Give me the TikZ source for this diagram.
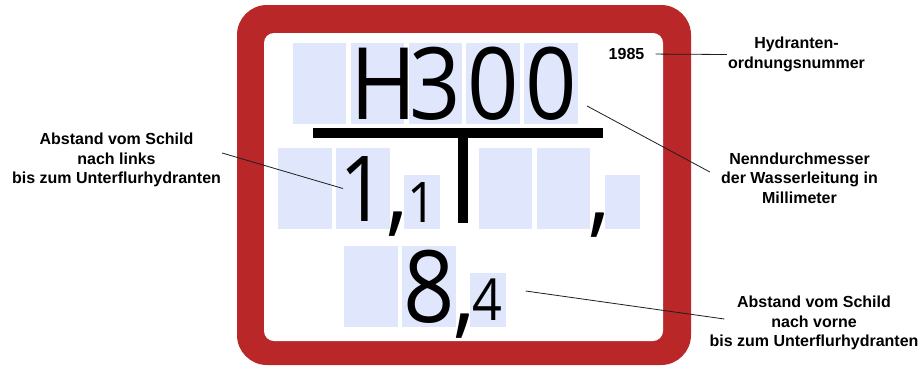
\documentclass[tikz,border=0pt]{standalone}
\usepackage{fontspec}
\setmainfont{Liberation Sans}
\newfontfamily\signfont{Open Sans}[FakeStretch=0.9]
\usetikzlibrary{positioning}
\definecolor{signRed}{RGB}{186,39,41}
\definecolor{signCell}{RGB}{224,230,252}
\definecolor{signLine}{RGB}{30,30,30}

\begin{document}
\begin{tikzpicture}[
    x=1pt, y=-1pt,
    node distance=4pt,
    cell/.style={fill=signCell, inner sep=0pt, text depth=0pt, text width=53.5pt, align=center, minimum height=81pt},
    bigcell/.style={cell, font=\signfont\fontsize{100}{100}\selectfont, text height=72pt},
    midcell/.style={cell, font=\signfont\fontsize{91}{91}\selectfont, text height=65pt},
    subcell/.style={fill=signCell, inner sep=0pt, text depth=0pt, text width=35.5pt, align=center, minimum height=54pt, font=\signfont\fontsize{56}{56}\selectfont, text height=40pt, anchor=south west},
    komma/.style={inner sep=0pt, font=\signfont\fontsize{100}{100}\selectfont, anchor=base},
    note/.style={align=center, inner sep=1pt, font=\bfseries\fontsize{16}{19.5}\selectfont},
    leader/.style={draw=signLine, line width=0.8pt}
]
    \useasboundingbox (0,0) rectangle (923,368);

    % red frame of the sign
    \fill[signRed, rounded corners=30pt] (237,5) rectangle (691,365);
    \fill[white, rounded corners=10pt] (264,33) rectangle (663,341);

    % top row: diameter
    \node[bigcell] (hLeer) at (319.5,83) {};
    \node[bigcell, right=of hLeer] (hBuchst) {H};
    \node[bigcell, right=of hBuchst] (hDrei) {3};
    \node[bigcell, right=of hDrei] (hNullA) {0};
    \node[bigcell, right=of hNullA] (hNullB) {0};

    % the T
    \fill (313,128) rectangle (603,138);
    \fill (458,137) rectangle (468,223);

    % middle row: left / right
    \node[midcell] (lLeer) at (305,188.5) {};
    \node[midcell, right=of lLeer] (lEins) {1};
    \node[subcell] (lKlein) at ([xshift=14pt]lEins.south east) {1};
    \node[midcell] (rLeerA) at (505.5,188.5) {};
    \node[midcell, right=of rLeerA] (rLeerB) {};
    \node[subcell] (rKlein) at ([xshift=14pt]rLeerB.south east) {};
    \node[komma] (lKomma) at (398,223) {,};
    \node[komma] (rKomma) at (599.5,224) {,};

    % bottom row: front
    \node[midcell] (vLeer) at (371,286.5) {};
    \node[bigcell, right=of vLeer] (vAcht) {8};
    \node[subcell, font=\signfont\fontsize{58}{58}\selectfont, text height=41.5pt] (vVier) at ([xshift=14pt]vAcht.south east) {4};
    \node[komma] (vKomma) at (465,325) {,};

    % year
    \node[font=\bfseries\fontsize{16}{16}\selectfont, inner sep=1pt] (jahr) at (626.5,54) {1985};

    % explanations
    \node[note] (links) at (116.5,160) {Abstand vom Schild\\nach links\\bis zum Unterflurhydranten};
    \node[note] (nummer) at (796.5,54.5) {Hydranten-\\ordnungsnummer};
    \node[note] (nenn) at (799.5,178) {Nenndurchmesser\\der Wasserleitung in\\Millimeter};
    \node[note] (vorne) at (814,323) {Abstand vom Schild\\nach vorne\\bis zum Unterflurhydranten};

    \draw[leader] ([yshift=7pt]links.east) -- ([xshift=7pt]lEins.west);
    \draw[leader, shorten <=10pt] (jahr.east) -- (nummer.west);
    \draw[leader] ([xshift=9pt,yshift=-23pt]hNullB.east) -- ([xshift=-10pt,yshift=6pt]nenn.west);
    \draw[leader] ([xshift=20pt,yshift=9pt]vVier.east) -- ([xshift=16pt,yshift=4pt]vorne.west);
\end{tikzpicture}
\end{document}
